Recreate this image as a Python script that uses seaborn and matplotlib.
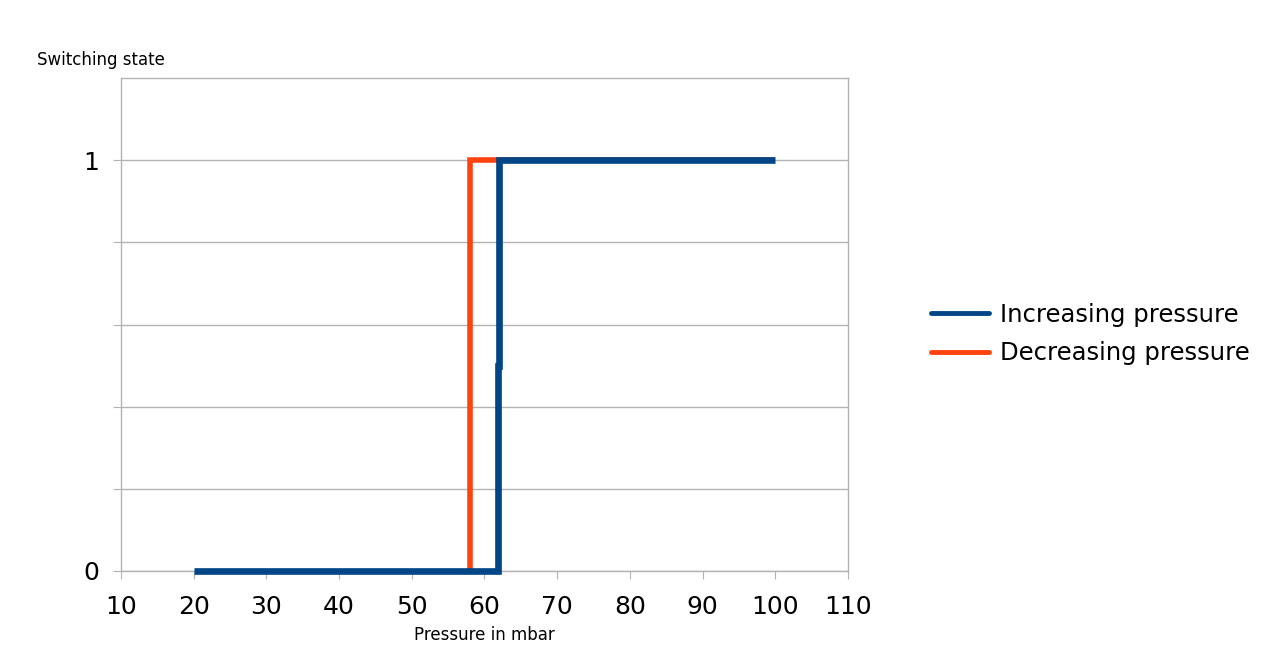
import matplotlib
matplotlib.use("Agg")
import matplotlib.pyplot as plt
import seaborn as sns
import pandas as pd

# Data
inc_x = [20, 61.8, 61.8, 62, 62, 100]
inc_y = [0, 0, 0.5, 0.5, 1, 1]
dec_x = [100, 58, 58]
dec_y = [1, 1, 0]
series_names = ["Increasing pressure", "Decreasing pressure"]
x_ticks = [10, 20, 30, 40, 50, 60, 70, 80, 90, 100, 110]
y_ticks = [0, 0.2, 0.4, 0.6, 0.8, 1.0]
y_tick_labels = ["0", "", "", "", "", "1"]

BLUE = "#004586"
ORANGE = "#ff420e"
GRID = "#b3b3b3"

sns.set_style("white")
plt.rcParams["font.family"] = ["DejaVu Sans"]
plt.rcParams["text.color"] = "black"
plt.rcParams["xtick.labelcolor"] = "black"
plt.rcParams["ytick.labelcolor"] = "black"
plt.rcParams["axes.labelcolor"] = "black"

fig = plt.figure(figsize=(12.83, 6.65), dpi=100)
ax = fig.add_axes([121/1283, 1-571/665, (848-121)/1283, (571-78)/665])

df_inc = pd.DataFrame({"x": inc_x, "y": inc_y})
df_dec = pd.DataFrame({"x": dec_x, "y": dec_y})

sns.lineplot(data=df_dec, x="x", y="y", sort=False, estimator=None, ax=ax,
             color=ORANGE, linewidth=4.0, solid_capstyle="butt", solid_joinstyle="miter",
             clip_on=False, zorder=3)
sns.lineplot(data=df_inc, x="x", y="y", sort=False, estimator=None, ax=ax,
             color=BLUE, linewidth=4.8, solid_capstyle="butt", solid_joinstyle="miter",
             clip_on=False, zorder=4)

ax.set_xlim(10, 110)
ax.set_ylim(0, 1.2)
ax.set_xticks(x_ticks)
ax.set_yticks(y_ticks)
ax.set_yticklabels(y_tick_labels)
ax.set_xlabel("Pressure in mbar", fontsize=12, labelpad=5, color="black")
ax.set_ylabel("")
ax.yaxis.grid(True, color=GRID, linewidth=1)
ax.xaxis.grid(False)
ax.set_axisbelow(True)
for s in ax.spines.values():
    s.set_color(GRID)
    s.set_linewidth(1)
ax.tick_params(axis="x", direction="out", length=6, color=GRID, labelsize=18, pad=11,
               bottom=True, labelcolor="black")
ax.tick_params(axis="y", direction="out", length=6, color=GRID, labelsize=18, pad=10,
               left=True, labelcolor="black")

fig.text(37/1283, 1-60/665, "Switching state", fontsize=12, ha="left", va="center", color="black")

from matplotlib.lines import Line2D
handles = [Line2D([], [], color=BLUE, linewidth=3.5), Line2D([], [], color=ORANGE, linewidth=3.5)]
fig.legend(handles, series_names, loc="center left", bbox_to_anchor=(931/1283, 1-334/665),
           frameon=False, fontsize=17.5, handlelength=2.4, handletextpad=0.45,
           labelspacing=0.6, borderaxespad=0, borderpad=0, labelcolor="black")

fig.savefig("out.png", dpi=100)
